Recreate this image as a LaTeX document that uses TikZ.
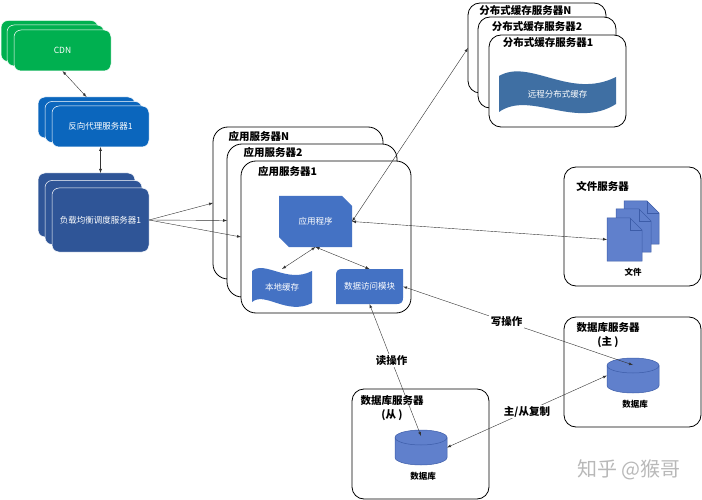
\documentclass[tikz,border=0pt]{standalone}
\usepackage{fontspec}
\setmainfont{Noto Sans CJK SC}
\usetikzlibrary{shapes.misc}
\definecolor{cdngreen}{HTML}{00B050}
\definecolor{proxyblue}{HTML}{0B66BD}
\definecolor{lbblue}{HTML}{2F5597}
\definecolor{appblue}{HTML}{4472C4}
\definecolor{wavecol}{HTML}{3F6FA3}
\definecolor{dbblue}{HTML}{6080CC}
\definecolor{dbline}{HTML}{3C5CA8}
\begin{document}
\begin{tikzpicture}[
	x=1pt,y=-1pt
	,every node/.append style={inner sep=0pt, outer sep=0pt}
	,conn/.style={<->, >=latex, line width=.4pt, draw=black!80}
	,g/.style={draw=white, line width=.5pt, fill=cdngreen, rounded corners=7pt, minimum width=97pt, minimum height=41pt, text=white, font=\fontsize{8.5}{10}\selectfont}
	,p/.style={g, fill=proxyblue, rounded corners=7pt}
	,l/.style={g, fill=lbblue, minimum height=64pt}
	,srv/.style={draw=black, line width=.8pt, fill=white, rounded corners=#1}
	,t/.style={font=\fontsize{10.5}{14}\selectfont\bfseries, align=center}
	,s/.style={font=\fontsize{8.5}{10}\selectfont\bfseries}
	,w/.style={text=white, font=\fontsize{8.5}{10}\selectfont}
	,lab/.style={fill=white, inner sep=1.5pt, font=\fontsize{10.5}{12}\selectfont\bfseries}
	,db/.style={minimum width=52pt, minimum height=35pt}
]
	\useasboundingbox (0,0) rectangle (702,500);

	% left stacks
	\node [g] (cdnb) at (49.5,41) {};
	\node [g] (cdnm) at (55.5,45.5) {};
	\node [g] (cdn) at (62.5,50.5) {CDN};
	\node [p] (proxyb) at (86.5,117.5) {};
	\node [p] (proxym) at (93.5,122) {};
	\node [p] (proxy) at (100.5,126.5) {反向代理服务器1};
	\node [l] (lbb) at (86.5,205) {};
	\node [l] (lbm) at (93.5,212.5) {};
	\node [l] (lb) at (100.5,220) {负载均衡调度服务器1};

	% application servers
	\node [srv=15pt, minimum width=170pt, minimum height=152pt] (appN) at (298,203) {};
	\node [t] (appNt) at (259,136) {应用服务器N};
	\node [srv=15pt, minimum width=170pt, minimum height=153pt] (app2) at (312,220.5) {};
	\node [t] (app2t) at (273,152) {应用服务器2};
	\node [srv=15pt, minimum width=170pt, minimum height=152pt] (app1) at (326,237) {};
	\node [t] (app1t) at (287.5,171) {应用服务器1};
	\node [chamfered rectangle, chamfered rectangle corners={north east,south west}, chamfered rectangle xsep=6pt, chamfered rectangle ysep=6pt, fill=appblue, minimum width=73pt, minimum height=51pt, w] (prog) at (315.5,221.5) {应用程序};
	\fill [appblue] (252,271) .. controls (265,260) and (287,284) .. (312,271) -- (312,303) .. controls (287,316) and (265,291) .. (252,302) -- cycle;
	\node [w, minimum width=60pt, minimum height=36pt] (cache) at (282,287) {本地缓存};
	\fill [appblue] (336,304) -- (336,275) .. controls (336,271) and (338,269) .. (342,269) -- (403,269) -- (403,298) .. controls (403,302) and (401,304) .. (397,304) -- cycle;
	\node [w, minimum width=67pt, minimum height=35pt] (data) at (369.5,286.5) {数据访问模块};

	% distributed cache servers
	\node [srv=12pt, minimum width=138pt, minimum height=90pt] (distN) at (537,48) {};
	\node [t] (distNt) at (525.5,11) {分布式缓存服务器N};
	\node [srv=12pt, minimum width=138pt, minimum height=91pt] (dist2) at (547,62.5) {};
	\node [t] (dist2t) at (537,27) {分布式缓存服务器2};
	\node [srv=12pt, minimum width=137pt, minimum height=92pt] (dist1) at (557.5,81) {};
	\node [t] (dist1t) at (548,43) {分布式缓存服务器1};
	\fill [wavecol] (499,76) .. controls (530,58) and (570,100) .. (616,77) -- (616,104) .. controls (575,130) and (530,90) .. (499,112) -- cycle;
	\node [w, minimum width=117pt, minimum height=50pt] (wave) at (557.5,94) {远程分布式缓存};

	% file server
	\node [srv=12pt, minimum width=137pt, minimum height=119pt] (file) at (632.5,226.5) {};
	\node [t] (filet) at (602.5,186) {文件服务器};
	\foreach \x/\y in {624/201,616/209,607/218} {
		\draw [draw=dbline, fill=dbblue, line width=.5pt] (\x,\y) -- (\x+23,\y) -- (\x+35,\y+12) -- (\x+35,\y+43) -- (\x,\y+43) -- cycle;
		\draw [draw=dbline, line width=.5pt] (\x+23,\y) -- (\x+23,\y+12) -- (\x+35,\y+12);
	}
	\node [minimum width=35pt, minimum height=43pt] (doc) at (624.5,239.5) {};
	\node [s] (doct) at (633,272) {文件};

	% database servers
	\node [srv=12pt, minimum width=137pt, minimum height=110pt] (dbm) at (632.5,372) {};
	\node [t] (dbmt) at (608,335) {数据库服务器\\(主 )};
	\node [srv=12pt, minimum width=137pt, minimum height=110pt] (dbs) at (420.5,444) {};
	\node [t] (dbst) at (392,408) {数据库服务器\\(从 )};
	\foreach \x/\y in {633/358,421/430} {
		\draw [draw=dbline, fill=dbblue, line width=.5pt] (\x-26,\y+7.5) -- (\x-26,\y+27.5) arc [start angle=180, end angle=360, x radius=26pt, y radius=7.5pt] -- (\x+26,\y+7.5) arc [start angle=0, end angle=180, x radius=26pt, y radius=7.5pt] -- cycle;
		\draw [draw=dbline, line width=.5pt] (\x-26,\y+7.5) arc [start angle=180, end angle=360, x radius=26pt, y radius=7.5pt];
	}
	\node [db] (cylm) at (633,375.5) {};
	\node [s] (cylmt) at (635,404) {数据库};
	\node [db] (cyls) at (421,447.5) {};
	\node [s] (cylst) at (423,476) {数据库};

	% connectors
	\draw [conn] (cdn.south) -- (proxyb.north);
	\draw [conn] (proxy.south) -- (proxy.south |- lbb.north);
	\draw [conn, <-] (appN.west) -- (lb.east);
	\draw [conn, <-] (app2.west) -- (lb.east);
	\draw [conn, <-] (app1.west) -- (lb.east);
	\draw [conn] (prog.east) -- (distN.west);
	\draw [conn] (prog.east) -- (doc.west);
	\draw [conn] (prog.south) -- (cache.north);
	\draw [conn] (prog.south) -- (data.north);
	\draw [conn] (data.east) -- node [lab, pos=.45] (wr) {写操作} ([yshift=-7pt]cylm.north);
	\draw [conn] (data.south) -- node [lab, pos=.43] (rd) {读操作} ([yshift=-6pt]cyls.north);
	\draw [conn] (cylm.west) -- node [lab] (rep) {主/从复制} (cyls.east);

	\node [text=black!28, font=\fontsize{20}{22}\selectfont] (mark) at (629,470) {知乎 @猴哥};
\end{tikzpicture}
\end{document}
